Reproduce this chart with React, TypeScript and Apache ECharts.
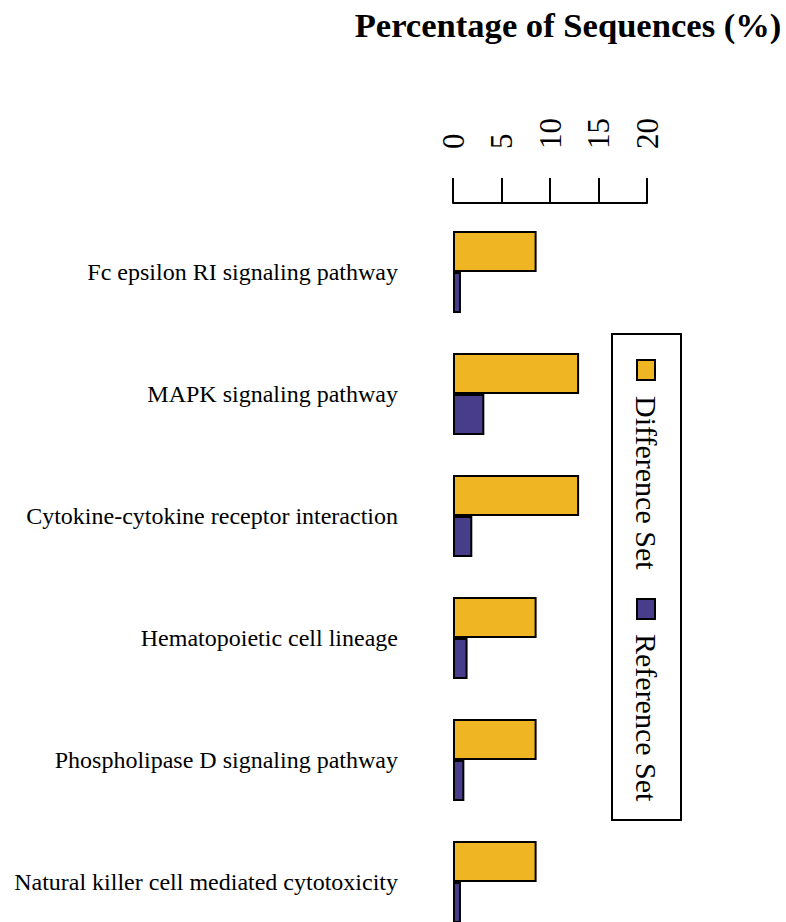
import React, { useEffect, useRef } from "react";
import * as echarts from "echarts";

const categories = [
  "Fc epsilon RI signaling pathway",
  "MAPK signaling pathway",
  "Cytokine-cytokine receptor interaction",
  "Hematopoietic cell lineage",
  "Phospholipase D signaling pathway",
  "Natural killer cell mediated cytotoxicity",
];
const differenceSet = [8.62, 13.0, 13.0, 8.62, 8.62, 8.62];
const referenceSet = [0.82, 3.23, 1.99, 1.5, 1.17, 0.82];
const seriesNames = ["Difference Set", "Reference Set"];
const xTicks = { min: 0, max: 20, interval: 5 };
const titleText = "Percentage of Sequences (%)";

const SERIF = "'Liberation Serif', 'Times New Roman', serif";
const YELLOW = "#EFB522";
const BLUE = "#483D8B";

export default function App() {
  const ref = useRef<HTMLDivElement>(null);
  useEffect(() => {
    if (!ref.current) return;
    const chart = echarts.init(ref.current, undefined, { renderer: "svg" });
    chart.setOption({
      animation: false,
      backgroundColor: "#ffffff",
      textStyle: { fontFamily: SERIF, color: "#000" },
      grid: { left: 453, top: 211, width: 194, height: 732, containLabel: false },
      xAxis: {
        type: "value",
        position: "top",
        offset: 8,
        min: xTicks.min,
        max: xTicks.max,
        interval: xTicks.interval,
        splitLine: { show: false },
        axisLine: { show: true, lineStyle: { color: "#000", width: 2 } },
        axisTick: { show: true, length: 25, lineStyle: { color: "#000", width: 2 } },
        axisLabel: {
          rotate: -90,
          margin: 54,
          fontSize: 31,
          fontFamily: SERIF,
          color: "#000",
        },
      },
      yAxis: {
        type: "category",
        inverse: true,
        data: categories,
        axisLine: { show: false },
        axisTick: { show: false },
        axisLabel: { margin: 55, fontSize: 24, fontFamily: SERIF, color: "#000" },
      },
      series: [
        {
          name: seriesNames[0],
          type: "bar",
          data: differenceSet,
          barWidth: 41,
          barGap: "0%",
          itemStyle: { color: YELLOW, borderColor: "#000", borderWidth: 2 },
        },
        {
          name: seriesNames[1],
          type: "bar",
          data: referenceSet,
          barWidth: 41,
          barGap: "0%",
          itemStyle: { color: BLUE, borderColor: "#000", borderWidth: 2 },
        },
      ],
      graphic: [
        {
          type: "text",
          x: 568,
          y: 25,
          style: {
            text: titleText,
            font: `bold 34.6px ${SERIF}`,
            fill: "#000",
            align: "center",
            verticalAlign: "middle",
          },
        },
        {
          type: "rect",
          shape: { x: 612, y: 334, width: 69, height: 486 },
          style: { fill: "#fff", stroke: "#000", lineWidth: 2 },
        },
        {
          type: "rect",
          shape: { x: 637, y: 360, width: 18, height: 20 },
          style: { fill: YELLOW, stroke: "#000", lineWidth: 2 },
        },
        {
          type: "text",
          x: 646,
          y: 396,
          rotation: -Math.PI / 2,
          style: {
            text: seriesNames[0],
            font: `30px ${SERIF}`,
            fill: "#000",
            align: "left",
            verticalAlign: "middle",
          },
        },
        {
          type: "rect",
          shape: { x: 637, y: 599, width: 18, height: 20 },
          style: { fill: BLUE, stroke: "#000", lineWidth: 2 },
        },
        {
          type: "text",
          x: 646,
          y: 634,
          rotation: -Math.PI / 2,
          style: {
            text: seriesNames[1],
            font: `30px ${SERIF}`,
            fill: "#000",
            align: "left",
            verticalAlign: "middle",
          },
        },
      ],
    });
    return () => chart.dispose();
  }, []);
  return (
    <div
      style={{
        position: "fixed",
        left: 0,
        top: 0,
        width: 786,
        height: 922,
        overflow: "hidden",
        background: "#fff",
      }}
    >
      <div ref={ref} style={{ width: 786, height: 960 }} />
    </div>
  );
}
